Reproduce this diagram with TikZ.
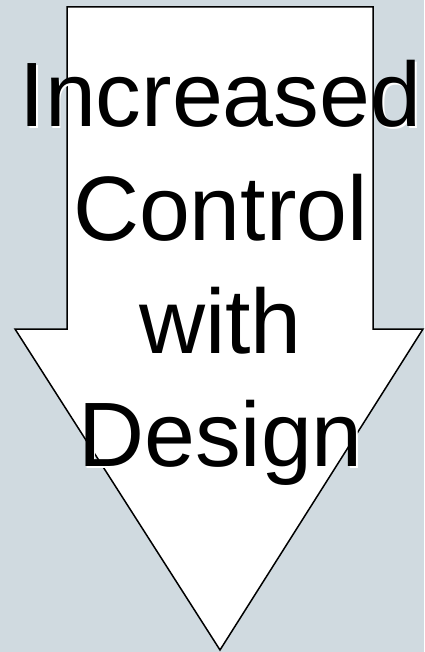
\documentclass[tikz,border=0pt]{standalone}
\usepackage{fontspec}
\setmainfont{Liberation Sans}
\definecolor{bgblue}{RGB}{208,218,224}
\newcommand{\shadowed}[1]{\makebox[0pt][l]{\hspace{1.8pt}\raisebox{-2pt}{\textcolor{white}{#1}}}#1}
\tikzset{
  bigtext/.style={font=\fontsize{91.5}{113}\selectfont, inner sep=0pt, anchor=base},
  arrowshape/.style={draw=black, fill=white, line width=1.5pt, line join=miter}
}
\begin{document}
\begin{tikzpicture}[x=1pt,y=-1pt]
\fill[bgblue] (0,0) rectangle (424,652);
\useasboundingbox (0,0) rectangle (424,652);
\draw[arrowshape] (67,7) -- (373,7) -- (373,329) -- (423,329) -- (220,650) -- (15,329) -- (67,329) -- cycle;
\foreach \txt/\yy/\nm in {Increased/127/a, Control/240/b, with/353/c, Design/466/d}{
  \node[bigtext] (t\nm) at (220.5,\yy) {\shadowed{\txt}};
}
\end{tikzpicture}
\end{document}
